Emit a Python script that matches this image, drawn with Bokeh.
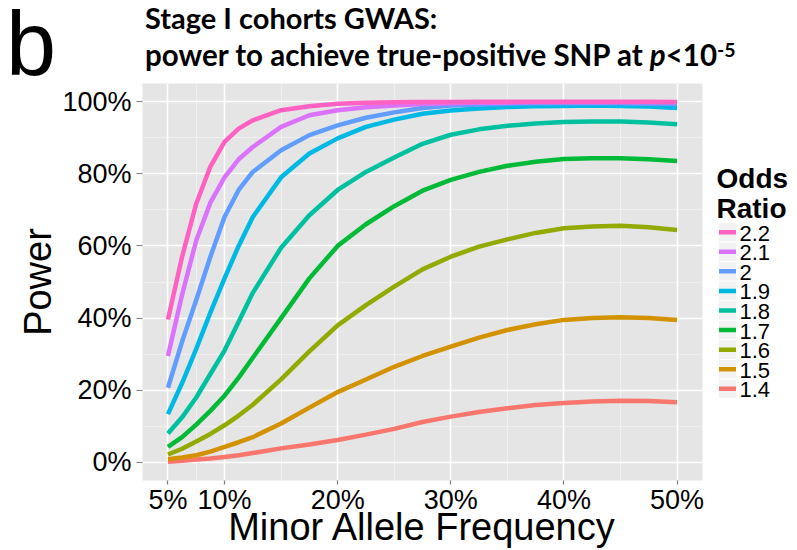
from bokeh.plotting import figure
from bokeh.layouts import column, row
from bokeh.models import Range1d, FixedTicker, PrintfTickFormatter, Div
from bokeh.core.properties import value
from bokeh.embed import file_html
from bokeh.resources import INLINE

# ---------------- data ----------------
maf = [5, 6.25, 7.5, 8.75, 10, 11.25, 12.5, 15, 17.5, 20, 22.5, 25, 27.5, 30,
       32.5, 35, 37.5, 40, 42.5, 45, 47.5, 50]

odds_ratios = ["1.4", "1.5", "1.6", "1.7", "1.8", "1.9", "2", "2.1", "2.2"]

power_1_4 = [0.2, 0.5, 0.8, 1.1, 1.5, 2.0, 2.6, 3.9, 5.0, 6.2, 7.7, 9.3, 11.2, 12.7,
             14.0, 15.0, 15.9, 16.5, 16.9, 17.1, 17.0, 16.7]
power_1_5 = [0.9, 1.4, 2.0, 3.0, 4.3, 5.6, 7.0, 10.8, 15.2, 19.5, 23.0, 26.5, 29.5, 32.1,
             34.6, 36.7, 38.3, 39.5, 40.0, 40.2, 40.0, 39.5]
power_1_6 = [2.2, 3.8, 5.8, 7.9, 10.3, 13.0, 16.0, 23.0, 30.8, 38.0, 43.6, 48.7, 53.5, 57.0,
             59.8, 61.8, 63.6, 64.9, 65.4, 65.6, 65.2, 64.4]
power_1_7 = [4.3, 7.0, 10.5, 14.3, 18.5, 23.5, 29.0, 40.0, 51.0, 60.0, 66.0, 71.0, 75.3, 78.3,
             80.5, 82.2, 83.3, 84.1, 84.3, 84.3, 84.0, 83.5]
power_1_8 = [8.0, 12.5, 18.0, 24.5, 31.0, 39.0, 47.0, 59.5, 68.5, 75.5, 80.5, 84.5, 88.3, 90.8,
             92.3, 93.3, 93.9, 94.3, 94.5, 94.5, 94.2, 93.7]
power_1_9 = [13.4, 22.0, 31.5, 41.5, 51.0, 60.0, 68.0, 79.0, 85.6, 89.8, 93.0, 95.0, 96.6, 97.5,
             98.1, 98.5, 98.7, 98.8, 98.9, 98.8, 98.6, 98.2]
power_2_0 = [20.7, 33.5, 45.0, 57.0, 68.0, 75.5, 80.5, 86.5, 90.7, 93.4, 95.5, 97.0, 98.2, 98.9,
             99.2, 99.4, 99.5, 99.5, 99.5, 99.5, 99.4, 99.3]
power_2_1 = [29.5, 46.5, 61.5, 72.0, 79.0, 84.0, 87.4, 93.0, 96.2, 97.6, 98.4, 98.9, 99.3, 99.5,
             99.7, 99.7, 99.8, 99.8, 99.8, 99.8, 99.8, 99.8]
power_2_2 = [39.6, 57.0, 71.7, 82.0, 88.8, 92.5, 94.8, 97.6, 98.7, 99.4, 99.7, 99.8, 99.9, 99.9,
             99.95, 99.95, 99.95, 99.95, 99.95, 99.95, 99.95, 99.9]

powers = [power_1_4, power_1_5, power_1_6, power_1_7, power_1_8,
          power_1_9, power_2_0, power_2_1, power_2_2]

colors = ["#F8766D", "#D39200", "#93AA00", "#00BA38", "#00C19F",
          "#00B9E3", "#619CFF", "#DB72FB", "#FF61C3"]

x_ticks = [5, 10, 20, 30, 40, 50]
x_minor = [7.5, 15, 25, 35, 45]
y_ticks = [0, 20, 40, 60, 80, 100]
y_minor = [10, 30, 50, 70, 90]

x_title = "Minor Allele Frequency"
y_title = "Power"
legend_title = ["Odds", "Ratio"]
panel_letter = "b"
title_line1 = "Stage I cohorts GWAS:"
title_line2 = ("power to achieve true-positive SNP at <i>p</i>&lt;10"
               "<span style='position:relative;top:-0.45em;font-size:0.66em;line-height:0;'>-5</span>")

# ---------------- layout (page pixels) ----------------
W, H = 797, 550
TOP_H = 83                      # title strip height (= panel top)
PL, PR, PB = 142, 702, 480      # panel left / right / bottom on the page
MAIN_W = 712                    # main figure width (10 px right border for the "50%" label)
X0, X1 = 2.75, 52.25
Y0, Y1 = -5.0, 105.0

AX_FONT = "Liberation Sans"
TITLE_FONT = "Lato"

# ---------------- title strip (HTML) ----------------
title_html = f"""
<div style="position:relative;width:{W}px;height:{TOP_H}px;overflow:visible;color:black;">
  <span style="position:absolute;left:6px;top:9px;font-family:'{AX_FONT}';font-size:90px;
               line-height:70px;white-space:nowrap;">{panel_letter}</span>
  <span style="position:absolute;left:145px;top:1px;font-family:'{TITLE_FONT}';font-weight:bold;
               font-size:29px;line-height:1.2;white-space:nowrap;">{title_line1}</span>
  <span style="position:absolute;left:145px;top:37px;font-family:'{TITLE_FONT}';font-weight:bold;
               font-size:29.5px;line-height:1.2;white-space:nowrap;">{title_line2}</span>
</div>
"""
title_div = Div(text=title_html, width=W, height=TOP_H, margin=0)

# ---------------- main plot ----------------
p = figure(width=MAIN_W, height=H - TOP_H, x_range=Range1d(X0, X1), y_range=Range1d(Y0, Y1),
           output_backend="svg", toolbar_location=None,
           min_border_left=PL, min_border_right=MAIN_W - PR,
           min_border_top=0, min_border_bottom=H - PB,
           background_fill_color="#E5E5E5", border_fill_color="white",
           outline_line_color=None, margin=0)

p.xaxis.ticker = FixedTicker(ticks=x_ticks, minor_ticks=x_minor)
p.yaxis.ticker = FixedTicker(ticks=y_ticks, minor_ticks=y_minor)
p.xaxis.formatter = PrintfTickFormatter(format="%d%%")
p.yaxis.formatter = PrintfTickFormatter(format="%d%%")
for ax in (p.xaxis[0], p.yaxis[0]):
    ax.axis_line_color = None
    ax.minor_tick_line_color = None
    ax.major_tick_line_color = "#7F7F7F"
    ax.major_tick_line_width = 1.2
    ax.major_tick_in = 0
    ax.major_label_text_font = AX_FONT
    ax.major_label_text_font_size = "27px"
    ax.major_label_text_color = "black"
    ax.axis_label_text_font = AX_FONT
    ax.axis_label_text_font_size = "38px"
    ax.axis_label_text_font_style = "normal"
    ax.axis_label_text_color = "black"
p.xaxis.major_tick_out = 4
p.yaxis.major_tick_out = 6
p.xaxis.major_label_standoff = 0
p.yaxis.major_label_standoff = 5
p.xaxis.axis_label = x_title
p.yaxis.axis_label = y_title
p.xaxis.axis_label_standoff = -12
p.yaxis.axis_label_standoff = 0

p.xgrid.grid_line_color = "white"
p.ygrid.grid_line_color = "white"
p.xgrid.grid_line_width = 1.6
p.ygrid.grid_line_width = 1.6
p.xgrid.minor_grid_line_color = "#F2F2F2"
p.ygrid.minor_grid_line_color = "#F2F2F2"
p.xgrid.minor_grid_line_width = 0.8
p.ygrid.minor_grid_line_width = 0.8

for ps, col in zip(powers, colors):
    p.line(maf, ps, line_width=4.5, line_color=col, line_cap="butt", line_join="round")

# ---------------- legend (ggplot style), coordinates = page pixels ----------------
leg = figure(width=W - MAIN_W, height=H - TOP_H,
             x_range=Range1d(MAIN_W, W), y_range=Range1d(PB, TOP_H),
             output_backend="svg", toolbar_location=None,
             x_axis_type=None, y_axis_type=None,
             min_border_left=0, min_border_right=0, min_border_top=0,
             min_border_bottom=H - PB,
             background_fill_color="white", border_fill_color="white",
             outline_line_color=None, margin=0)

n = len(odds_ratios)
key_x = [727] * n
key_y = [231.7 + 19.58 * i for i in range(n)]
leg.rect(x=key_x, y=key_y, width=18, height=19.6,
         fill_color="#F2F2F2", line_color="white", line_width=1)
leg.rect(x=key_x, y=key_y, width=17, height=4.5,
         fill_color=colors[::-1], line_color=None)
leg.text(x=[739] * n, y=[v + 1 for v in key_y], text=odds_ratios[::-1],
         text_font=value(AX_FONT), text_font_size="22px",
         text_baseline="middle", text_align="left", text_color="black")
leg.text(x=[716, 716], y=[177.5, 207.5], text=legend_title,
         text_font=value(AX_FONT), text_font_size="28px", text_font_style="bold",
         text_baseline="middle", text_align="left", text_color="black")

layout = column(title_div, row(p, leg, spacing=0), spacing=0)
open("out.html", "w").write(file_html(layout, INLINE))
